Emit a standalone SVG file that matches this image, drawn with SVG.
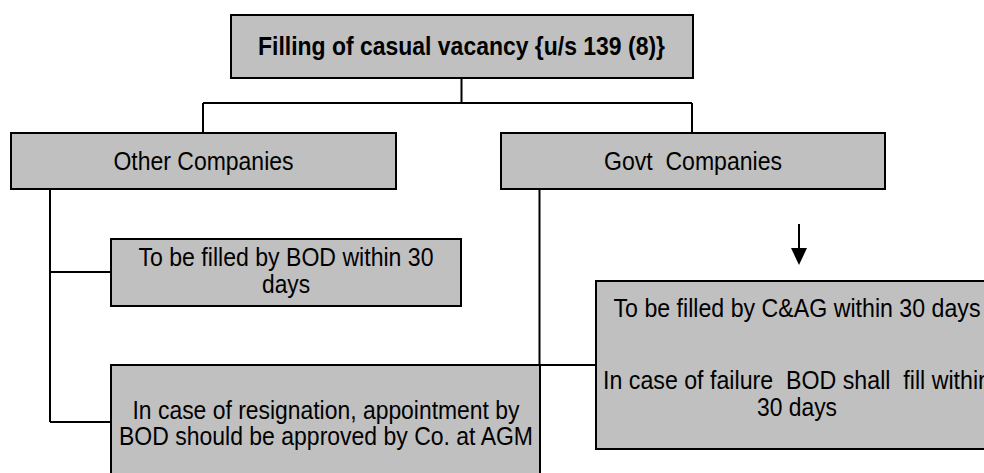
<svg xmlns="http://www.w3.org/2000/svg" width="984" height="473" viewBox="0 0 984 473">
<defs>
<style>
.box{fill:#C0C0C0;stroke:#000;stroke-width:2}
.t{font-family:"Liberation Sans",Arial,sans-serif;font-size:26px;fill:#000;text-anchor:middle}
.b{font-weight:bold}
.c{fill:none;stroke:#000;stroke-width:2}
</style>
</defs>
<rect width="984" height="473" fill="#fff"/>
<g id="connectors">
<path class="c" d="M461.5,78 V103 M203,103 H692 M203,103 V133 M692,103 V133"/>
<path class="c" d="M50,189 V422 M50,272 H111 M50,422 H111"/>
<path class="c" d="M539.5,189 V365 H596"/>
<path class="c" d="M799,224 V248"/>
<path d="M791,248 L807,248 L799,265 Z" fill="#000"/>
</g>
<g id="top">
<rect class="box" x="231" y="15" width="462" height="63"/>
<text class="t b" x="461.5" y="55" textLength="407" lengthAdjust="spacingAndGlyphs">Filling of casual vacancy {u/s 139 (8)}</text>
</g>
<g id="other">
<rect class="box" x="11" y="133" width="385" height="56"/>
<text class="t" x="203.5" y="169.5" textLength="180" lengthAdjust="spacingAndGlyphs">Other Companies</text>
</g>
<g id="govt">
<rect class="box" x="501" y="133" width="384" height="56"/>
<text class="t" x="693" y="169.5" xml:space="preserve" textLength="178" lengthAdjust="spacingAndGlyphs">Govt  Companies</text>
</g>
<g id="bod">
<rect class="box" x="111" y="239" width="350" height="67"/>
<text class="t" x="286" y="266" textLength="295" lengthAdjust="spacingAndGlyphs">To be filled by BOD within 30</text>
<text class="t" x="286" y="293" textLength="48" lengthAdjust="spacingAndGlyphs">days</text>
</g>
<g id="resignation">
<rect class="box" x="111" y="365" width="429" height="130"/>
<text class="t" x="326" y="418.5" textLength="387" lengthAdjust="spacingAndGlyphs">In case of resignation, appointment by</text>
<text class="t" x="326" y="445" textLength="414" lengthAdjust="spacingAndGlyphs">BOD should be approved by Co. at AGM</text>
</g>
<g id="cag">
<rect class="box" x="596" y="281" width="402" height="168"/>
<text class="t" x="797" y="317" textLength="367" lengthAdjust="spacingAndGlyphs">To be filled by C&amp;AG within 30 days</text>
<text class="t" x="797" y="389" xml:space="preserve" textLength="388" lengthAdjust="spacingAndGlyphs">In case of failure  BOD shall  fill within</text>
<text class="t" x="797" y="416" textLength="80" lengthAdjust="spacingAndGlyphs">30 days</text>
</g>
</svg>
